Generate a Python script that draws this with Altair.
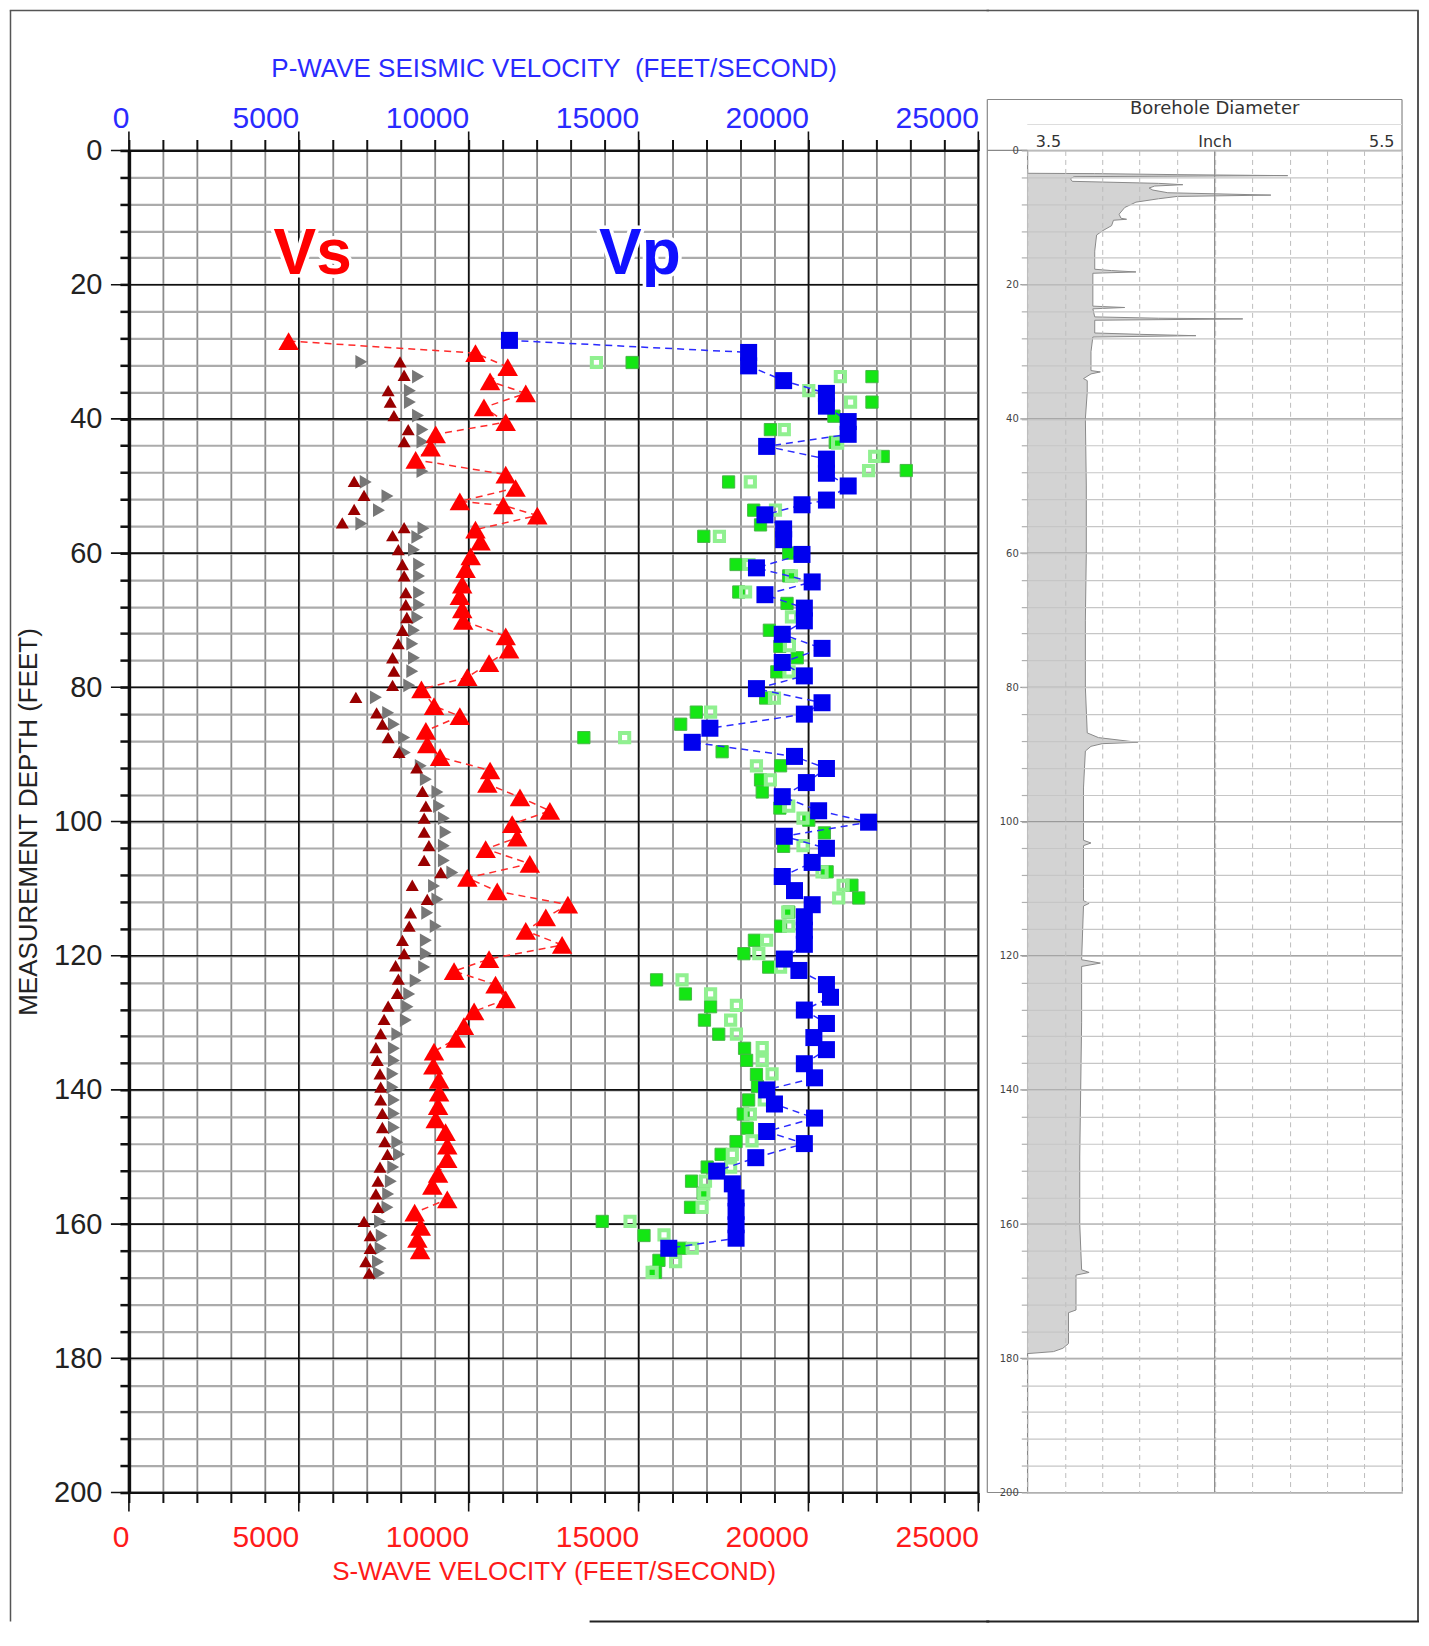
import altair as alt
import pandas as pd

# ---------------- data ----------------
# Vs (large red triangles, dashed red connector)
vs_depth = [28.4, 30.2, 32.3, 34.4, 36.2, 38.3, 40.5, 42.3, 44.3, 46.1, 48.3, 50.3, 52.3, 52.9, 54.4,
            56.5, 58.3, 60.5, 62.4, 64.7, 66.4, 68.4, 70.1, 72.4, 74.4, 76.4, 78.5, 80.3, 82.8, 84.3,
            86.5, 88.5, 90.4, 92.4, 94.4, 96.4, 98.4, 100.4, 102.4, 104.1, 106.3, 108.4, 110.4, 112.4,
            114.3, 116.3, 118.4, 120.5, 122.3, 124.3, 126.5, 128.3, 130.5, 132.4, 134.3, 136.4, 138.5,
            140.4, 142.4, 144.4, 146.3, 148.3, 150.3, 152.5, 154.3, 156.3, 158.3, 160.4, 162.2, 163.9]
vs_vel = [4700, 10200, 11150, 10630, 11680, 10450, 11090, 9030, 8880, 8440, 11090, 11380, 9740, 11020, 12020,
          10200, 10350, 10060, 9910, 9810, 9740, 9810, 9840, 11090, 11190, 10600, 9960, 8610, 8980, 9740,
          8740, 8780, 9160, 10630, 10550, 11510, 12390, 11280, 11430, 10500, 11800, 9960, 10840, 12920,
          12270, 11680, 12750, 10600, 9570, 10790, 11090, 10160, 9860, 9620, 8980, 8960, 9130,
          9130, 9100, 9030, 9320, 9370, 9370, 9100, 8930, 9370, 8410, 8590, 8490, 8570]

# small dark-red triangles
dr_depth = [31.5, 33.5, 35.8, 37.5, 39.5, 41.6, 43.4, 49.3, 51.4, 53.5, 55.5, 56.2, 57.4, 59.5, 61.7,
            63.4, 65.9, 67.7, 69.6, 71.5, 73.5, 75.6, 77.6, 79.7, 81.5, 83.8, 85.5, 87.5, 89.7, 92.0,
            95.5, 97.7, 99.5, 101.6, 103.6, 105.8, 107.6, 109.5, 111.6, 113.6, 115.6, 117.7, 119.7,
            121.5, 123.5, 125.6, 127.5, 129.5, 131.6, 133.7, 135.6, 137.6, 139.6, 141.5, 143.5, 145.6,
            147.7, 149.6, 151.5, 153.6, 155.5, 157.5, 159.6, 161.7, 163.6, 165.6, 167.3]
dr_vel = [7980, 8100, 7630, 7690, 7800, 8220, 8100, 6630, 6920, 6630, 6280, 8100, 7760, 7930, 8050,
          8100, 8150, 8150, 8180, 8050, 7930, 7760, 7800, 7760, 6680, 7290, 7460, 7630, 7950, 8470,
          8640, 8740, 8690, 8690, 8830, 8690, 9180, 8340, 8780, 8290, 8250, 8050, 8100,
          7850, 7930, 7900, 7630, 7510, 7410, 7270, 7310, 7390, 7410, 7410, 7460, 7460,
          7530, 7610, 7390, 7330, 7270, 7330, 6920, 7100, 7100, 6970, 7070]

# grey right-pointing triangles
gr_depth = [31.5, 33.7, 35.8, 37.5, 39.5, 41.6, 43.4, 47.8, 49.4, 51.5, 53.6, 55.6, 56.3, 57.6, 59.5,
            61.7, 63.4, 65.9, 67.7, 69.6, 71.5, 73.5, 75.6, 77.6, 79.7, 81.5, 83.8, 85.5, 87.5, 89.7,
            91.7, 93.7, 95.6, 97.7, 99.5, 101.6, 103.6, 105.8, 107.6, 109.6, 111.6, 113.6, 115.6,
            117.7, 119.7, 121.7, 123.7, 125.7, 127.6, 129.6, 131.7, 133.8, 135.6, 137.6, 139.6, 141.5,
            143.5, 145.6, 147.8, 149.6, 151.5, 153.6, 155.5, 157.5, 159.6, 161.7, 163.6, 165.6, 167.3]
gr_vel = [6840, 8510, 8270, 8270, 8510, 8640, 8640, 8640, 6970, 7610, 7360, 6840, 8670, 8490, 8390,
          8540, 8540, 8540, 8540, 8490, 8390, 8340, 8390, 8340, 8250, 7270, 7630, 7800, 8100, 8120,
          8590, 8740, 9080, 9130, 9270, 9320, 9270, 9270, 9520, 8980, 9080, 8780, 9030,
          8740, 8740, 8690, 8440, 8250, 8200, 8150, 7900, 7800, 7800, 7760, 7760, 7800,
          7800, 7800, 7900, 7950, 7780, 7710, 7630, 7610, 7390, 7440, 7410, 7330, 7360]

# Vp (large blue squares, dashed blue connector)
vp_depth = [28.3, 30.1, 32.1, 34.3, 36.2, 38.1, 40.4, 42.3, 44.1, 46.0, 48.1, 50.0, 52.1, 52.8, 54.3,
            56.4, 58.0, 60.2, 62.2, 64.3, 66.2, 68.2, 70.1, 72.1, 74.2, 76.3, 78.3, 80.2, 82.3, 84.0,
            86.1, 88.2, 90.3, 92.1, 94.2, 96.3, 98.4, 100.1, 102.2, 104.0, 106.1, 108.2, 110.3, 112.4,
            114.2, 116.2, 118.3, 120.5, 122.2, 124.3, 126.2, 128.1, 130.1, 132.2, 134.0, 136.1, 138.2,
            140.0, 142.1, 144.2, 146.2, 148.0, 150.1, 152.1, 154.0, 156.1, 158.1, 160.1, 162.1, 163.6]
vp_vel = [11200, 18240, 18240, 19270, 20530, 20530, 21170, 21170, 18770, 20530, 20530, 21170, 20530, 19810, 18720,
          19270, 19270, 19810, 18470, 20110, 18720, 19880, 19880, 19230, 20400, 19230, 19880, 18470, 20400, 19880,
          17100, 16580, 19590, 20530, 19940, 19230, 20300, 21770, 19290, 20530, 20110, 19230, 19590, 20110,
          19880, 19880, 19880, 19290, 19720, 20530, 20650, 19880, 20530, 20160, 20530, 19880, 20180,
          18770, 19000, 20180, 18770, 19880, 18450, 17300, 17760, 17870, 17870, 17870, 17870, 15890]

# small filled green squares
gf_depth = [31.6, 33.7, 37.5, 39.6, 41.6, 43.5, 45.6, 47.7, 49.4, 53.6, 55.8, 57.5, 60.0, 61.7, 63.4,
            65.8, 67.5, 71.5, 73.9, 75.6, 77.7, 81.6, 83.7, 85.5, 87.5, 89.6, 91.7, 93.8, 95.6, 98.0,
            99.8, 101.7, 103.7, 107.5, 109.5, 111.4, 113.5, 115.6, 117.7, 119.7, 121.7, 123.6, 125.7,
            127.6, 129.6, 131.7, 133.8, 135.6, 137.7, 139.5, 141.5, 143.6, 145.7, 147.7, 149.6, 151.5,
            153.6, 155.4, 157.5, 159.6, 161.7, 163.6, 165.4, 167.2]
gf_vel = [14810, 21870, 21870, 20750, 18880, 20790, 22200, 22880, 17650, 18390, 18590, 16920, 19420, 17870, 19420,
          17950, 19370, 18850, 19160, 19670, 19070, 18740, 16700, 16240, 13390, 17460, 19180, 18590, 18640, 19160,
          20010, 20470, 19270, 20550, 21280, 21480, 19420, 19180, 18410, 18100, 18830, 15530, 16380,
          17120, 16940, 17360, 18120, 18180, 18470, 18500, 18240, 18080, 18200, 17870, 17430, 17020,
          16560, 16900, 16530, 13930, 15160, 16240, 15600, 15500]

# small open light-green squares
go_depth = [31.6, 33.7, 35.8, 37.5, 41.6, 43.6, 45.6, 47.7, 49.4, 53.6, 57.5, 61.7, 63.4, 65.8, 69.5,
            73.8, 77.7, 81.6, 83.7, 87.5, 91.7, 93.8, 97.7, 99.5, 103.6, 107.5, 109.5, 111.4, 113.5,
            115.6, 117.7, 119.7, 121.7, 123.6, 125.7, 127.4, 129.6, 131.7, 133.7, 135.6, 137.6, 141.5,
            143.6, 147.6, 149.6, 151.5, 153.6, 155.5, 157.5, 159.6, 161.6, 163.6, 165.6, 167.2]
go_vel = [13760, 20940, 20010, 21240, 19290, 20860, 21950, 21770, 18290, 19030, 17380, 18250, 19500, 18150, 19500,
          19440, 19430, 19000, 17120, 14590, 18470, 18880, 19420, 19840, 19840, 20400, 21020, 20890, 19390,
          19420, 18770, 18540, 19180, 16280, 17120, 17880, 17710, 17880, 18640, 18640, 18930, 18700,
          18290, 18340, 17760, 17710, 16970, 16920, 16870, 14750, 15750, 16580, 16090, 15400]

# annotations
ann_text = ["Vs", "Vp"]
ann_vel = [5410, 15040]
ann_depth = [18.4, 18.4]
ann_color = ["#ff0000", "#1010ff"]

# axis / grid values
vel_major = [0, 5000, 10000, 15000, 20000, 25000]
vel_ticks = list(range(0, 25001, 1000))
depth_major = list(range(0, 201, 20))
depth_ticks = list(range(0, 201, 4))

# borehole diameter log (depth ft, diameter inch)
bh_depth = [3.4, 3.45, 3.6, 3.75, 3.9, 4.2, 4.6, 4.9, 5.1, 5.3, 5.6, 5.9, 6.3, 6.65, 6.85, 7.2, 7.7,
            8.5, 9.5, 10.1, 10.25, 10.4, 11.2, 12.0, 12.6, 15.0, 17.7, 17.9, 18.1, 18.3, 20.0, 23.2,
            23.4, 23.6, 24.8, 25.0, 25.1, 25.3, 27.2, 27.4, 27.6, 27.8, 30.0, 32.8, 33.0, 33.3, 34.0,
            34.3, 36.0, 40.0, 50.0, 60.0, 70.0, 80.0, 86.8, 87.5, 88.2, 88.4, 88.8, 89.5, 95.0, 100.0,
            102.8, 103.2, 103.6, 110.0, 111.8, 112.2, 112.6, 120.6, 121.1, 121.6, 130.0, 140.0, 150.0,
            160.0, 166.8, 167.2, 167.6, 172.8, 173.2, 177.8, 178.5, 179.0, 179.3]
bh_diam = [3.5, 3.86, 4.30, 4.89, 3.75, 3.73, 3.74, 4.20, 4.33, 4.18, 4.15, 4.17, 4.25, 4.80, 4.30, 4.20, 4.08,
           4.02, 3.99, 4.00, 4.03, 3.96, 3.95, 3.90, 3.87, 3.86, 3.86, 3.95, 4.08, 3.85, 3.85, 3.85,
           4.02, 3.85, 3.86, 4.20, 4.65, 3.86, 3.86, 4.10, 4.40, 3.85, 3.84, 3.84, 3.89, 3.84, 3.80,
           3.82, 3.82, 3.81, 3.815, 3.815, 3.81, 3.81, 3.82, 3.88, 4.09, 3.90, 3.84, 3.81, 3.80, 3.80,
           3.80, 3.84, 3.80, 3.80, 3.80, 3.83, 3.80, 3.79, 3.89, 3.79, 3.79, 3.785, 3.78,
           3.78, 3.79, 3.83, 3.76, 3.76, 3.72, 3.72, 3.69, 3.64, 3.5]
diam_ticks = [3.5, 3.7, 3.9, 4.1, 4.3, 4.5, 4.7, 4.9, 5.1, 5.3, 5.5]
diam_mid = [4.5]
panel_title = ["Borehole Diameter"]

# ---------------- tables ----------------
df_vs = pd.DataFrame({"d": vs_depth, "v": vs_vel})
df_dr = pd.DataFrame({"d": dr_depth, "v": dr_vel})
df_gr = pd.DataFrame({"d": gr_depth, "v": gr_vel})
df_vp = pd.DataFrame({"d": vp_depth, "v": vp_vel})
df_gf = pd.DataFrame({"d": gf_depth, "v": gf_vel})
df_go = pd.DataFrame({"d": go_depth, "v": go_vel})
df_ann = pd.DataFrame({"t": ann_text, "v": ann_vel, "d": ann_depth, "c": ann_color})
df_vmaj = pd.DataFrame({"v": vel_major})
df_hmaj = pd.DataFrame({"d": depth_major})
df_bh = pd.DataFrame({"d": bh_depth, "w": bh_diam})
df_mid = pd.DataFrame({"w": diam_mid})
df_ptitle = pd.DataFrame({"t": panel_title})

FONT = "Liberation Sans"
W, H = 850, 1343
WR = 375
TOP = -140   # outer frame top (relative to plot top)
BOT = 1472   # outer frame bottom (relative to plot top)
LFT = -118.5  # outer frame left (relative to main plot left)
RGT = 391    # outer frame right (relative to right panel plot left)

xs = alt.Scale(domain=[0, 25000], nice=False, zero=False)
ys = alt.Scale(domain=[0, 200], reverse=True, nice=False, zero=False)
xr = alt.Scale(domain=[3.5, 5.5], nice=False, zero=False)


def seg(x1, y1, x2, y2, color, width, cap="butt"):
    return alt.Chart(pd.DataFrame({"k": [0]})).mark_rule(
        color=color, strokeWidth=width, strokeCap=cap).encode(
        x=alt.value(x1), x2=alt.value(x2), y=alt.value(y1), y2=alt.value(y2))


lab_expr_vel = "datum.value % 5000 == 0 ? format(datum.value, 'd') : ''"

bottom_axis = alt.Axis(
    orient="bottom", values=vel_ticks, labelExpr=lab_expr_vel, labelAlign="right",
    labelBaseline="top", labelColor="#ff1a1a", labelFontSize=30, labelFont=FONT,
    labelPadding=20, labelOverlap=False, labelFlush=False, labelBound=False,
    tickSize=10, tickWidth=2, tickColor="#111111", domainColor="#111111", domainWidth=2,
    grid=True, gridColor="#8c8c8c", gridWidth=1.8,
    title="S-WAVE VELOCITY (FEET/SECOND)", titleColor="#ff1a1a", titleFontSize=26,
    titleFont=FONT, titleFontWeight="normal", titlePadding=6)

top_axis = alt.Axis(
    orient="top", values=vel_ticks, labelExpr=lab_expr_vel, labelAlign="right",
    labelColor="#2a2aff", labelFontSize=30, labelFont=FONT, labelPadding=6,
    labelOverlap=False, labelFlush=False, labelBound=False,
    tickSize=11, tickWidth=2, tickColor="#111111", domainColor="#111111", domainWidth=2,
    grid=False,
    title="P-WAVE SEISMIC VELOCITY\u00a0 (FEET/SECOND)", titleColor="#2a2aff", titleFontSize=26,
    titleFont=FONT, titleFontWeight="normal", titlePadding=22)

left_axis = alt.Axis(
    orient="left", values=depth_ticks,
    labelExpr="datum.value % 20 == 0 ? format(datum.value, 'd') : ''",
    labelFontSize=29, labelFont=FONT, labelColor="#222222", labelPadding=18,
    labelOverlap=False, labelFlush=False,
    tickSize=9, tickWidth=2.5, tickColor="#111111", domainColor="#111111", domainWidth=3.5,
    grid=True, gridColor="#ababab", gridWidth=2.2,
    title="MEASUREMENT DEPTH (FEET)", titleFontSize=26, titleFont=FONT, titleColor="#222222",
    titleFontWeight="normal", titlePadding=12)

X_none = alt.X("v:Q", scale=xs, axis=None)
Y_none = alt.Y("d:Q", scale=ys, axis=None)

vmaj = alt.Chart(df_vmaj).mark_rule(color="#111111", strokeWidth=1.6).encode(
    x=alt.X("v:Q", scale=xs, axis=bottom_axis), y=alt.value(-19), y2=alt.value(H + 19))
hmaj = alt.Chart(df_hmaj).mark_rule(color="#111111", strokeWidth=1.6).encode(
    y=alt.Y("d:Q", scale=ys, axis=left_axis), x=alt.value(-18), x2=alt.value(W))

gray_pts = alt.Chart(df_gr).mark_point(shape="triangle-right", filled=True, size=190,
                                       color="#777777", opacity=1).encode(x=X_none, y=Y_none)
dark_pts = alt.Chart(df_dr).mark_point(shape="triangle-up", filled=True, size=170,
                                       color="#990000", opacity=1).encode(x=X_none, y=Y_none)
gf_pts = alt.Chart(df_gf).mark_point(shape="square", filled=True, size=150, fill="#14e614",
                                     stroke="#46b846", strokeWidth=1, opacity=1).encode(x=X_none, y=Y_none)
go_pts = alt.Chart(df_go).mark_point(shape="square", filled=False, size=85, strokeWidth=4,
                                     color="#90f090", opacity=1).encode(x=X_none, y=Y_none)
blue_line = alt.Chart(df_vp).mark_line(color="#2a2aff", strokeDash=[7, 5], strokeWidth=1.5).encode(
    x=X_none, y=Y_none, order=alt.Order("d:Q"))
blue_pts = alt.Chart(df_vp).mark_point(shape="square", filled=True, size=290, color="#0000ee",
                                       opacity=1).encode(
    x=alt.X("v:Q", scale=xs, axis=top_axis), y=Y_none)
red_line = alt.Chart(df_vs).mark_line(color="#ff2a2a", strokeDash=[7, 5], strokeWidth=1.5).encode(
    x=X_none, y=Y_none, order=alt.Order("d:Q"))
red_pts = alt.Chart(df_vs).mark_point(shape="triangle-up", filled=True, size=420, color="#ff0000",
                                      opacity=1).encode(x=X_none, y=Y_none)
halo = alt.Chart(df_ann).mark_text(font=FONT, fontSize=64, fontWeight="bold", fill="white",
                                   stroke="white", strokeWidth=7, align="center",
                                   baseline="alphabetic").encode(x=X_none, y=Y_none, text="t:N")
ann = alt.Chart(df_ann).mark_text(font=FONT, fontSize=64, fontWeight="bold", align="center",
                                  baseline="alphabetic").encode(
    x=X_none, y=Y_none, text="t:N", color=alt.Color("c:N", scale=None))

main = alt.layer(
    hmaj, vmaj, gray_pts, dark_pts, gf_pts, go_pts, blue_line, blue_pts, red_line, red_pts, halo, ann,
    seg(LFT, TOP, LFT, BOT, "#555555", 1.5),
    seg(LFT, TOP, 860, TOP, "#555555", 1.5, "square"),
    seg(462, BOT, 860, BOT, "#222222", 2, "square"),
).resolve_axis(x="independent", y="independent").properties(
    width=W, height=H, view=alt.ViewBackground(stroke="#111111", strokeWidth=1.5))

# ---------------- borehole diameter panel ----------------
r_top_axis = alt.Axis(
    orient="top", values=diam_ticks,
    labelExpr="abs(datum.value - 4.5) < 0.01 ? 'Inch' : (datum.value < 3.55 ? '3.5' : (datum.value > 5.45 ? '5.5' : ''))",
    labelFlush=True, labelFlushOffset=-8, labelFontSize=16, labelFont="DejaVu Sans",
    labelColor="#333333", labelPadding=1, labelOverlap=False, ticks=False, tickSize=0,
    domain=False, grid=True, gridColor="#bdbdbd", gridDash=[5, 4], gridWidth=1, zindex=1, title=None)
r_left_axis = alt.Axis(
    orient="left", values=depth_ticks,
    labelExpr="datum.value % 20 == 0 ? format(datum.value, 'd') : ''",
    labelFontSize=10, labelFont="DejaVu Sans", labelColor="#444444", labelPadding=3,
    labelOverlap=False, tickSize=6, tickColor="#b0b0b0", tickWidth=1.2, domain=False,
    grid=True, gridColor="#c6c6c6", gridWidth=1.2, zindex=1, title=None)

bh_area = alt.Chart(df_bh).mark_area(orient="horizontal", color="#d3d3d3", opacity=1).encode(
    y=alt.Y("d:Q", scale=ys, axis=None), x=alt.X("w:Q", scale=xr, axis=None), x2=alt.datum(3.5))
bh_line = alt.Chart(df_bh).mark_line(color="#8a8a8a", strokeWidth=1).encode(
    y=alt.Y("d:Q", scale=ys, axis=None), x=alt.X("w:Q", scale=xr, axis=None), order=alt.Order("d:Q"))
r_hmaj = alt.Chart(df_hmaj).mark_rule(color="#9a9a9a", strokeWidth=1.2).encode(
    y=alt.Y("d:Q", scale=ys, axis=r_left_axis), x=alt.value(-7), x2=alt.value(WR))
r_mid = alt.Chart(df_mid).mark_rule(color="#8a8a8a", strokeWidth=1.2).encode(
    x=alt.X("w:Q", scale=xr, axis=r_top_axis))
r_title = alt.Chart(df_ptitle).mark_text(font="DejaVu Sans", fontSize=18, color="#333333",
                                         align="center", baseline="middle").encode(
    text="t:N", x=alt.value(WR / 2), y=alt.value(-41))

right = alt.layer(
    bh_area, bh_line, r_hmaj, r_mid, r_title,
    seg(-40, TOP, RGT, TOP, "#555555", 1.5, "square"),
    seg(RGT, TOP, RGT, BOT, "#555555", 2),
    seg(-40, BOT, RGT, BOT, "#222222", 2, "square"),
    seg(-40, -51, -40, H, "#888888", 1.2),
    seg(-40, -51, WR, -51, "#888888", 1.2),
    seg(WR, -51, WR, 0, "#888888", 1.2),
    seg(-40, 0, 0, 0, "#888888", 1.2),
    seg(-40, H, 0, H, "#888888", 1.2),
    seg(0, -26, WR, -26, "#dddddd", 1),
).resolve_axis(x="independent", y="independent").properties(
    width=WR, height=H,
    view=alt.ViewBackground(stroke="#888888", strokeWidth=1.2))

chart = alt.hconcat(main, right, spacing=-7).properties(padding=0)

chart.save("out.html", embed_options={"renderer": "svg", "actions": False})
